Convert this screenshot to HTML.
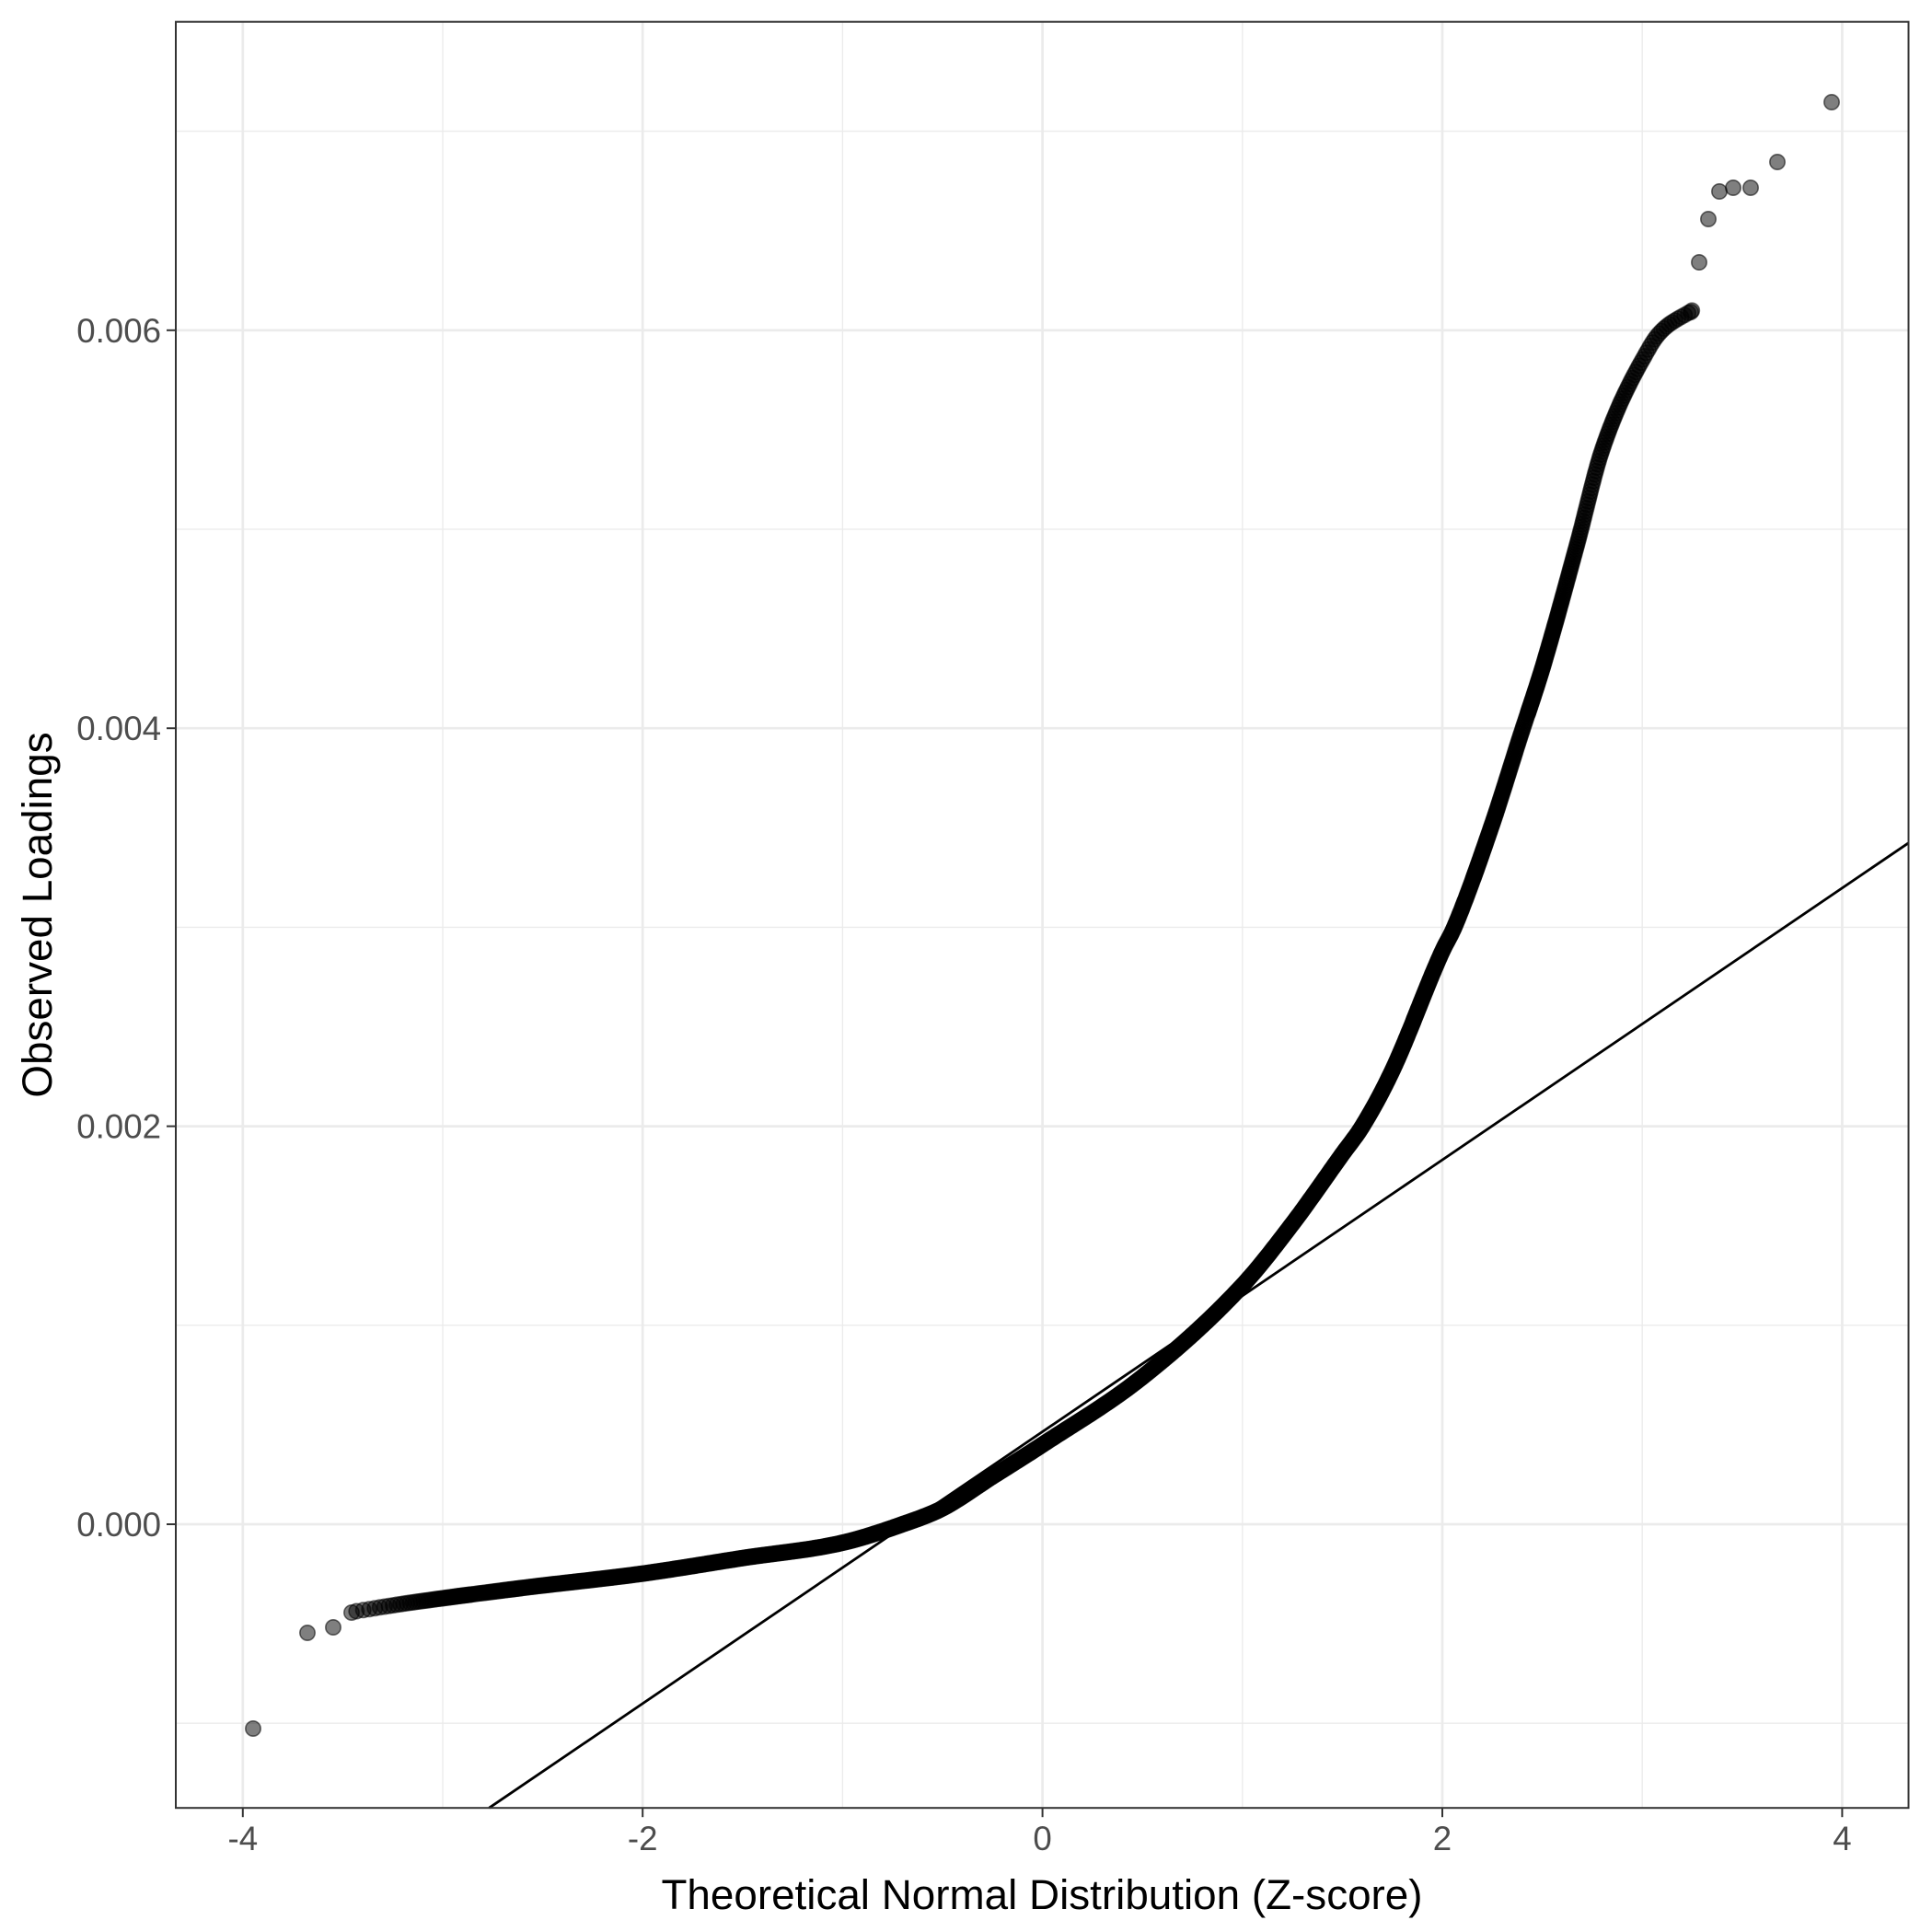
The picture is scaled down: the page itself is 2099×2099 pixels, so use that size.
<!DOCTYPE html>
<html><head><meta charset="utf-8"><style>
html,body{margin:0;padding:0;background:#fff;}
svg{display:block;font-family:"Liberation Sans",Arial,sans-serif;}
</style></head><body>
<svg id="s" width="2099" height="2099" viewBox="0 0 2099 2099" xmlns="http://www.w3.org/2000/svg">
<rect width="2099" height="2099" fill="#fff"/>
<g id="grid"></g>
<g id="pts"></g>
<line id="ln" stroke="#000" stroke-width="2.8"/>
<rect x="191" y="23.7" width="1882.5" height="1940.5" fill="none" stroke="#333" stroke-width="2"/>
<g id="ticks"></g>
<text x="1132" y="2074" font-size="45.8" text-anchor="middle" fill="#000">Theoretical Normal Distribution (Z-score)</text>
<text transform="translate(56,994) rotate(-90)" font-size="45.8" text-anchor="middle" fill="#000">Observed Loadings</text>
</svg>
<script>
const NS="http://www.w3.org/2000/svg";
const L=191,R=2073.5,T=23.7,B=1964.2;
const X=z=>1132.6+217.2*z, Y=v=>1656-v/0.002*432.4;
function el(p,t,a){const e=document.createElementNS(NS,t);for(const k in a)e.setAttribute(k,a[k]);document.getElementById(p).appendChild(e);return e;}
for(let z=-4;z<=4;z++){const maj=z%2===0;el("grid","line",{x1:X(z),x2:X(z),y1:T,y2:B,stroke:"#ebebeb","stroke-width":maj?2.7:1.35});}
for(let k=-1;k<=7;k++){const v=k*0.001,maj=k%2===0,y=Y(v);if(y<T||y>B)continue;el("grid","line",{x1:L,x2:R,y1:y,y2:y,stroke:"#ebebeb","stroke-width":maj?2.7:1.35});}
for(let z=-4;z<=4;z+=2){el("ticks","line",{x1:X(z),x2:X(z),y1:B,y2:B+10,stroke:"#333","stroke-width":2});const t=el("ticks","text",{x:X(z),y:B+46,"font-size":"36.7","text-anchor":"middle",fill:"#4d4d4d"});t.textContent=String(z);}
["0.000","0.002","0.004","0.006"].forEach((s,i)=>{const y=Y(i*0.002);el("ticks","line",{x1:L-10,x2:L,y1:y,y2:y,stroke:"#333","stroke-width":2});const t=el("ticks","text",{x:L-16,y:y+13,"font-size":"36.7","text-anchor":"end",fill:"#4d4d4d"});t.textContent=s;});
const a=0.000465,b=0.000683;
const zb=(((1656-B)/432.4*0.002)-a)/b;
const z1=Math.max(zb,(L-1132.6)/217.2), z2=(R-1132.6)/217.2;
const ln=document.getElementById("ln");
ln.setAttribute("x1",X(z1));ln.setAttribute("y1",Y(a+b*z1));ln.setAttribute("x2",X(z2));ln.setAttribute("y2",Y(a+b*z2));
function qn(p){const a1=[-39.6968302866538,220.946098424521,-275.928510446969,138.357751867269,-30.6647980661472,2.50662827745924],b1=[-54.4760987982241,161.585836858041,-155.698979859887,66.8013118877197,-13.2806815528857],c1=[-0.00778489400243029,-0.322396458041136,-2.40075827716184,-2.54973253934373,4.37466414146497,2.93816398269878],d1=[0.00778469570904146,0.32246712907004,2.445134137143,3.75440866190742];
let q,r;if(p<0.02425){q=Math.sqrt(-2*Math.log(p));return(((((c1[0]*q+c1[1])*q+c1[2])*q+c1[3])*q+c1[4])*q+c1[5])/((((d1[0]*q+d1[1])*q+d1[2])*q+d1[3])*q+1);}
if(p>1-0.02425){q=Math.sqrt(-2*Math.log(1-p));return-(((((c1[0]*q+c1[1])*q+c1[2])*q+c1[3])*q+c1[4])*q+c1[5])/((((d1[0]*q+d1[1])*q+d1[2])*q+d1[3])*q+1);}
q=p-0.5;r=q*q;return(((((a1[0]*r+a1[1])*r+a1[2])*r+a1[3])*r+a1[4])*r+a1[5])*q/(((((b1[0]*r+b1[1])*r+b1[2])*r+b1[3])*r+b1[4])*r+1);}
const K=[[-3.45,-0.00044],[-3.2,-0.0004],[-2.6,-0.00032],[-2,-0.000248],[-1.5,-0.00017],[-1,-0.000093],[-0.7,0],[-0.5,0.00008],[-0.25,0.00024],[0,0.0004],[0.5,0.00074],[1,0.0012],[1.25,0.00151],[1.5,0.00186],[1.6,0.002],[1.75,0.00228],[2,0.00288],[2.06,0.003],[2.25,0.00352],[2.39,0.00396],[2.5,0.0043],[2.673,0.00492],[2.8,0.0054],[3.04,0.00592],[3.1,0.006],[3.25,0.0061]];
// monotone cubic (Fritsch-Carlson)
const n=K.length,xs=K.map(k=>k[0]),ys=K.map(k=>k[1]);const d=[],m=[];
for(let i=0;i<n-1;i++)d.push((ys[i+1]-ys[i])/(xs[i+1]-xs[i]));
m[0]=d[0];m[n-1]=d[n-2];for(let i=1;i<n-1;i++){m[i]=(d[i-1]*d[i]<=0)?0:(d[i-1]+d[i])/2;}
for(let i=0;i<n-1;i++){if(d[i]===0){m[i]=m[i+1]=0;continue;}const al=m[i]/d[i],be=m[i+1]/d[i],s=al*al+be*be;if(s>9){const t=3/Math.sqrt(s);m[i]=t*al*d[i];m[i+1]=t*be*d[i];}}
function f(z){let i=0;while(i<n-2&&z>xs[i+1])i++;const h=xs[i+1]-xs[i],t=(z-xs[i])/h,t2=t*t,t3=t2*t;
return (2*t3-3*t2+1)*ys[i]+(t3-2*t2+t)*h*m[i]+(-2*t3+3*t2)*ys[i+1]+(t3-t2)*h*m[i+1];}
const g=document.getElementById("pts");let frag="";
const N=25000;let lx=-99,ly=-99;
function dot(x,y){frag+=`<circle cx="${x.toFixed(1)}" cy="${y.toFixed(1)}" r="8.2"/>`;}
for(let i=1;i<=N;i++){const z=qn((i-0.5)/N);if(z<-3.45||z>3.25)continue;const x=X(z),y=Y(f(z));if(Math.hypot(x-lx,y-ly)<1.3)continue;lx=x;ly=y;dot(x,y);}
[[275,1878],[334,1774],[362,1768],[382,1752],[1837,339],[1846,285],[1856,238],[1868,208],[1883,204],[1902,204],[1931,176],[1990,111]].forEach(p=>dot(p[0],p[1]));
g.setAttribute("fill","#000");g.setAttribute("fill-opacity","0.5");g.setAttribute("stroke","#000");g.setAttribute("stroke-opacity","0.55");g.setAttribute("stroke-width","1.6");
g.innerHTML=frag;
</script>
</body></html>
